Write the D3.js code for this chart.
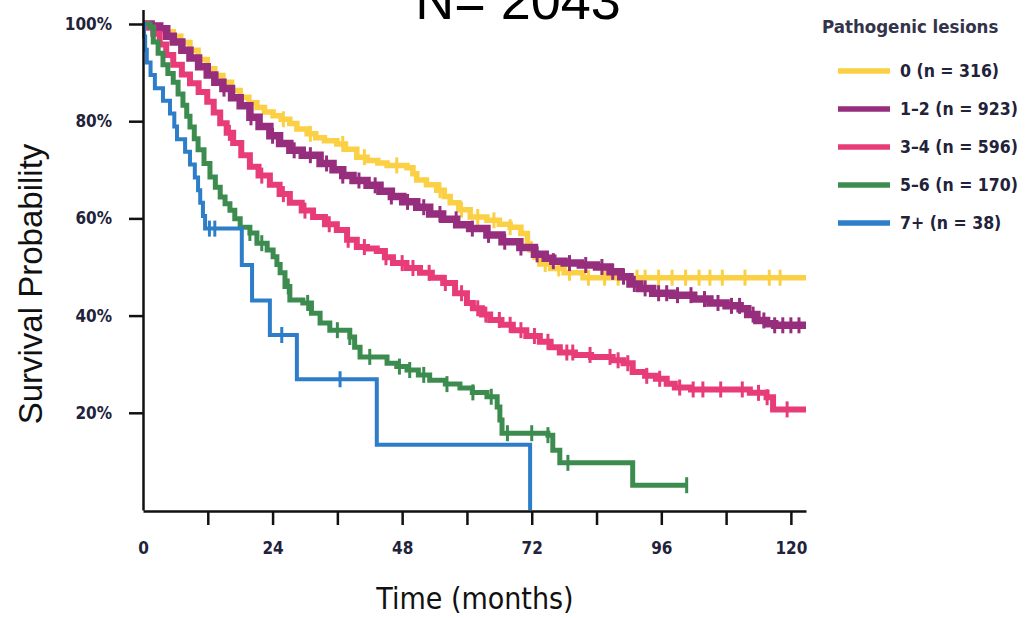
<!DOCTYPE html>
<html>
<head>
<meta charset="utf-8">
<script src="https://cdn.jsdelivr.net/npm/d3@7"></script>
<style>
  body { margin: 0; background: #fff; }
  svg { display: block; }
  .narrow { font-family: 'DejaVu Sans Condensed', 'DejaVu Sans', sans-serif; font-stretch: condensed; }
  .axis path, .axis line { stroke: #111; stroke-width: 2.5; }
  .axis text { fill: #22223a; font-weight: bold; font-size: 17px; }
</style>
</head>
<body>
<div id="chart"></div>
<script>
// Kaplan-Meier steps: [month, survival %]
const groupLabels = ['0 (n = 316)', '1–2 (n = 923)', '3–4 (n = 596)', '5–6 (n = 170)', '7+ (n = 38)'];

const steps0 = [[0,100],[1.5,99.7],[3,99],[4.5,98.4],[5.6,97.5],[7,96.2],[8.7,94.6],[10.2,92.7],[11.9,90.8],[13.3,89.4],[14.8,88],[16.4,86.3],[18,84.9],[19.6,83.8],[21.1,82.8],[22.5,81.9],[24.1,81.1],[25.6,80.4],[27.2,79.5],[28.5,78.4],[30.4,77.4],[32,76.6],[33.6,76],[35.9,75.3],[37.5,74.2],[39.6,72.6],[41.5,71.9],[43.5,71.4],[45.2,70.9],[48.9,70.4],[50,69.2],[50.7,67.9],[52.5,66.9],[54.4,65.8],[55.8,64.5],[56.9,63.2],[58.5,61.8],[60.6,60.3],[63.7,59.6],[66,58.8],[68,58.2],[70,56.9],[71.2,54.8],[71.7,53.5],[72.6,52],[73.5,50.6],[75.5,49.7],[78,48.8],[81.5,47.8]];
const steps12 = [[0,100],[1.5,99.6],[3.1,99],[4.4,97.5],[5.6,96.3],[7.2,94.6],[8.7,93],[10.3,91.2],[11.9,89.5],[13.3,88],[14.8,86.7],[16.4,84.8],[18,83.2],[19.8,80.8],[21.5,78.9],[23.5,77],[25.3,75.4],[27.2,74],[29.5,73],[32.8,71.3],[35.2,70],[37,68.8],[38.9,67.8],[41.5,66.8],[43.9,65.6],[46,64.5],[48.1,63.4],[50.7,62.3],[53.1,60.9],[55.5,59.8],[58.1,58.7],[60.5,57.9],[63.7,56.6],[66.5,55.2],[69.8,54],[72.5,52.6],[74.5,51.8],[75.9,51.2],[78,50.8],[81,50.4],[84,50],[86.5,49],[88.5,48],[90.2,46.5],[92,45.6],[94.4,44.6],[98,44.2],[102,43.4],[105,42.6],[108,42],[110.6,41.4],[112,40.2],[113.7,39],[115.5,38.3],[117,38]];
const steps34 = [[0,100],[0.8,99.2],[1.9,98],[3.1,95.8],[4.3,93.6],[5.6,91.6],[7.2,89.6],[8.7,87.8],[10.3,86],[11.9,84],[13.1,81.8],[14.3,79.6],[15.5,77.6],[16.7,75.5],[18.2,73],[19.8,70.6],[21.4,68.8],[23.5,66.9],[25.3,65],[27.2,63.2],[29.4,61.6],[31.5,60.3],[33.7,58.8],[35.9,57.6],[37.8,55.6],[39.6,54.1],[41.5,53.8],[43.3,53.3],[44.8,52],[46.3,50.8],[48.8,49.8],[51.3,48.8],[53.5,47.8],[55.6,46.7],[57.8,44.6],[60,42.6],[61.1,41.5],[62.8,40.2],[64.3,39.1],[66.4,38.1],[68.5,37],[71,35.8],[73.5,34.6],[75.5,33.5],[77.2,32.4],[80,31.9],[83,31.5],[87,30.8],[89,30.2],[90.7,28.4],[93,27.6],[95,27],[97,26],[98.5,25.2],[101.5,24.8],[112.4,24.1],[115.5,23.2],[116.7,20.7]];
const steps56 = [[0,100],[1.3,99.4],[1.9,96.3],[2.8,94],[3.7,91.6],[4.6,89.8],[5.6,88],[6.5,85.6],[7.4,83.3],[8.1,81],[8.7,78.8],[9.5,76.4],[10.2,74.1],[11.3,71.3],[12.4,68.5],[13.4,66.4],[14.3,64.4],[15.2,63],[16.1,61.7],[17,59.9],[18,58.2],[19.8,57],[21.1,54.9],[23,53.5],[24.1,52.1],[24.8,50.5],[25.4,48.8],[26.3,46],[27.2,43.2],[29.6,42.6],[31.2,40.5],[32.8,38.5],[34.6,37],[38.3,35.6],[39.2,33.5],[40.2,31.5],[45.2,30.2],[47,29.5],[48.9,28.8],[51,27.8],[53.1,26.7],[56,25.9],[58.7,25.1],[61,24.2],[63.7,23.3],[65.6,21.2],[66.1,18.5],[66.5,15.8],[75,15.4],[75.9,12.3],[77.2,9.7],[90.7,5.1]];
const steps7 = [[0,100],[0.2,97.4],[0.4,94.7],[0.7,92.1],[1.4,89.5],[2.2,86.8],[3.7,84.2],[5,81.6],[5.8,78.9],[6.3,76.3],[7.8,73.7],[8.7,71.1],[9.6,68.4],[10.2,65.8],[10.6,63.2],[11.1,60.5],[11.5,57.9],[18.3,50.4],[20.2,43.1],[23.5,36],[28.5,26.9],[43.3,13.4],[71.7,0]];

// censored observations (months)
const censored0 = [26,31,37,41,47,55,59,62,65,68,74.5,77,79,82.5,85.5,88,91.5,93,95.5,98,100.5,103,105,107.3,111.5,116,118];
const censored12 = [15,20,24,28,31,34,37,40,43,46,49,52,55,58,61,64,67,70,73,76,79,82,85,87,89,91,93,95.5,97,99,101.5,104,106.5,109,110.5,113,115,117,118.5,120,121.5];
const censored34 = [16,22,26,30,34.5,38,41,45,48,50,53,56,59,62,63.5,66,68,70,72.5,75,78.5,79.6,82.8,86.5,88,89.8,93.3,95.7,99.4,101.9,103.7,107,111,114,115.6,119.3];
const censored56 = [19.8,22,26.9,30.5,36,38.3,42,47.5,49.4,52,56.3,61.1,64.5,67.5,72,75,78.7,100.7];
const censored7 = [12.3,13.3,25.7,36.5];

const followUpEnd = [122.8, 122.8, 122.8, 100.7, 71.7];

const xTicks = [0, 12, 24, 36, 48, 60, 72, 84, 96, 108, 120];
const yTicks = [20, 40, 60, 80, 100];

const colors = ['#fbd044', '#962d7d', '#e83c78', '#3c8c50', '#2d7dc8'];
const strokes = [5.5, 7.5, 6, 5, 4];

function drawChart() {
  const width = 1034;
  const height = 618;

  const svg = d3.select('#chart').append('svg')
    .attr('width', width)
    .attr('height', height);

  const x = d3.scaleLinear().domain([0, 122.8]).range([143, 806]);
  const y = d3.scaleLinear().domain([0, 103]).range([510, 9.4]);

  const series = [steps0, steps12, steps34, steps56, steps7].map((steps, i) => ({
    label: groupLabels[i],
    steps,
    censored: [censored0, censored12, censored34, censored56, censored7][i],
    end: followUpEnd[i],
    color: colors[i],
    stroke: strokes[i],
  }));

  const survivalAt = (steps, t) => steps.filter(d => d[0] <= t).pop()[1];

  const line = d3.line()
    .x(d => x(d[0]))
    .y(d => y(d[1]))
    .curve(d3.curveStepAfter);

  // title, cut at the top as in the source
  svg.append('text')
    .attr('x', 518)
    .attr('y', 19)
    .attr('text-anchor', 'middle')
    .style('font-family', "'Liberation Sans', Arial, sans-serif")
    .style('font-size', '54px')
    .text('N= 2043');

  const curves = svg.selectAll('g.curve')
    .data(series)
    .enter()
    .append('g')
    .attr('class', 'curve');

  curves.append('path')
    .attr('fill', 'none')
    .attr('stroke', d => d.color)
    .attr('stroke-width', d => d.stroke)
    .attr('d', d => line([...d.steps, [d.end, d.steps[d.steps.length - 1][1]]]));

  curves.selectAll('path.censor')
    .data(d => d.censored.map(t => ({ t, s: survivalAt(d.steps, t), color: d.color })))
    .enter()
    .append('path')
    .attr('class', 'censor')
    .attr('stroke', d => d.color)
    .attr('stroke-width', 3)
    .attr('d', d => `M${x(d.t)},${y(d.s) - 8}V${y(d.s) + 8}`);

  const xAxis = d3.axisBottom(x)
    .tickValues(xTicks)
    .tickSizeInner(14)
    .tickSizeOuter(0)
    .tickPadding(17)
    .tickFormat(d => (d % 24 === 0 ? d : ''));

  const gx = svg.append('g')
    .attr('class', 'axis narrow')
    .attr('transform', 'translate(0, 511)')
    .call(xAxis);
  gx.selectAll('.tick line').filter(d => d === 0).remove();

  const yAxis = d3.axisLeft(y)
    .tickValues(yTicks)
    .tickSizeInner(14)
    .tickSizeOuter(0)
    .tickPadding(17)
    .tickFormat(d => `${d}%`);

  svg.append('g')
    .attr('class', 'axis narrow')
    .attr('transform', 'translate(143, 0)')
    .call(yAxis);

  svg.append('text')
    .attr('class', 'narrow')
    .attr('x', 475)
    .attr('y', 609)
    .attr('text-anchor', 'middle')
    .style('font-size', '30px')
    .style('fill', '#111')
    .text('Time (months)');

  svg.append('text')
    .attr('transform', 'translate(42, 284) rotate(-90)')
    .attr('text-anchor', 'middle')
    .style('font-family', "'Liberation Sans', Arial, sans-serif")
    .style('font-size', '33px')
    .style('fill', '#111')
    .text('Survival Probability');

  // legend
  const legend = svg.append('g')
    .attr('class', 'narrow')
    .attr('transform', 'translate(822, 0)');

  legend.append('text')
    .attr('x', 0)
    .attr('y', 33)
    .style('font-size', '18.5px')
    .style('font-weight', 'bold')
    .style('fill', '#33334a')
    .text('Pathogenic lesions');

  const items = legend.selectAll('g.item')
    .data(series)
    .enter()
    .append('g')
    .attr('class', 'item')
    .attr('transform', (d, i) => `translate(0, ${71 + i * 38})`);

  items.append('line')
    .attr('x1', 16)
    .attr('x2', 68)
    .attr('stroke', d => d.color)
    .attr('stroke-width', 5.5);

  items.append('text')
    .attr('x', 78)
    .attr('dy', '0.36em')
    .style('font-size', '17.5px')
    .style('font-weight', 'bold')
    .style('fill', '#22223a')
    .text(d => d.label);
}

drawChart();
</script>
</body>
</html>
